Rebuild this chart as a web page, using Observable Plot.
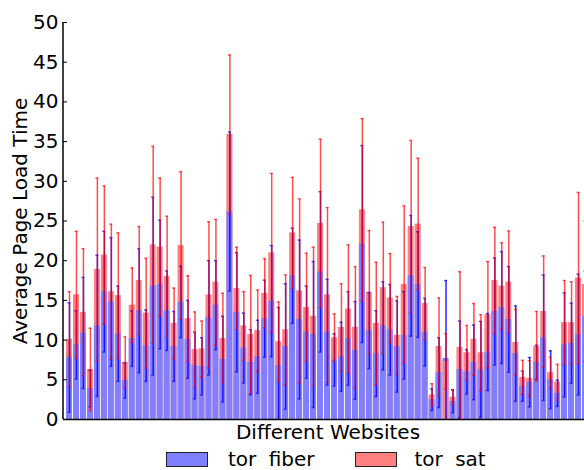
<!DOCTYPE html>
<html>
<head>
<meta charset="utf-8">
<script src="https://cdn.jsdelivr.net/npm/d3@7"></script>
<script src="https://cdn.jsdelivr.net/npm/@observablehq/plot@0.6"></script>
<style>
  html, body { margin: 0; padding: 0; background: white; overflow: hidden; }
  #chart svg { display: block; }
  .legend { height: 22px; padding-top: 2px; display: flex; align-items: center; line-height: 22px;
    font-family: "DejaVu Sans"; font-size: 20px; padding-left: 166px; white-space: nowrap; }
  .legend .sw { width: 40px; height: 13px; border: 1px solid #222; flex: none; }
  .legend .lab { word-spacing: 6px; flex: none; }
</style>
</head>
<body>
<div id="chart"></div>
<div class="legend">
  <span class="sw" style="background:#8080ff"></span><span class="lab" style="margin-left:20px;margin-right:41px">tor fiber</span>
  <span class="sw" style="background:#ff8080"></span><span class="lab" style="margin-left:17px">tor sat</span>
</div>
<script>
const fiber = [7.8, 9.4, 10.9, 3.9, 11.8, 16.1, 14.8, 10.8, 4.9, 10.2, 13.7, 9.3, 16.8, 17.0, 13.7, 9.2, 14.8, 10.1, 6.8, 6.7,
  12.8, 14.4, 7.6, 26.2, 13.5, 9.0, 7.2, 7.9, 12.7, 14.9, 6.8, 9.2, 18.1, 12.6, 11.0, 10.7, 18.6, 11.0, 7.5, 7.9,
  10.2, 8.7, 22.1, 11.2, 8.3, 11.8, 11.3, 9.2, 10.6, 18.1, 17.0, 11.0, 2.5, 5.9, 7.7, 2.3, 6.3, 6.0, 7.2, 6.3,
  8.5, 13.6, 14.1, 12.6, 8.3, 4.2, 4.7, 7.2, 10.3, 5.0, 3.3, 9.4, 9.6, 10.7, 13.0];
const fiberErr = [6.9, 4.3, 7.0, 2.3, 8.9, 7.6, 8.1, 6.0, 2.2, 3.5, 7.8, 4.5, 11.2, 8.1, 5.0, 4.4, 4.5, 4.9, 4.2, 3.6,
  7.2, 5.6, 5.4, 10.0, 7.5, 4.4, 4.1, 4.6, 4.85, 7.0, 7.3, 7.9, 6.0, 10.0, 5.8, 9.2, 10.1, 6.65, 3.3, 4.35,
  5.9, 6.15, 12.4, 4.8, 5.4, 5.55, 5.7, 5.75, 5.5, 7.6, 6.65, 4.25, 1.35, 4.4, 9.8, 1.45, 6.1, 2.8, 4.7, 6.05,
  4.85, 6.75, 7.05, 6.65, 6.0, 1.9, 3.1, 2.15, 7.9, 3.65, 1.65, 6.55, 5.05, 7.6, 5.7];
const sat = [10.1, 15.7, 13.5, 6.3, 18.9, 20.7, 16.1, 15.6, 7.2, 14.4, 17.5, 13.4, 22.0, 21.7, 18.0, 12.1, 21.9, 12.7, 8.8, 8.9,
  15.7, 17.3, 10.2, 35.9, 16.5, 11.8, 10.7, 11.2, 15.9, 21.0, 9.8, 11.3, 23.5, 16.2, 14.1, 13.0, 24.7, 15.7, 10.3, 11.6,
  13.9, 11.6, 26.4, 16.0, 12.1, 16.6, 15.3, 10.6, 17.0, 24.3, 24.6, 14.6, 3.1, 9.2, 7.3, 2.8, 9.1, 8.4, 10.1, 8.4,
  13.2, 17.5, 16.8, 17.3, 9.7, 5.3, 5.2, 9.2, 13.6, 5.9, 4.7, 12.2, 12.2, 17.8, 17.0];
const satErr = [6.0, 8.0, 8.0, 5.2, 11.5, 8.7, 8.5, 7.9, 3.2, 4.7, 6.8, 6.9, 12.4, 8.7, 7.6, 4.45, 9.3, 5.4, 4.75, 3.5,
  9.2, 7.9, 5.7, 10.0, 5.2, 4.3, 7.45, 5.1, 4.35, 10.0, 5.0, 6.9, 7.0, 11.6, 6.85, 8.7, 10.6, 11.0, 3.0, 5.5,
  8.1, 7.65, 11.5, 7.8, 7.7, 8.25, 5.6, 4.9, 9.9, 10.85, 8.3, 4.55, 1.4, 6.1, 3.5, 0.9, 9.5, 3.45, 4.5, 4.8,
  6.7, 6.7, 5.45, 6.45, 4.15, 2.15, 2.2, 4.4, 7.0, 1.95, 2.25, 5.3, 5.15, 10.8, 8.0];
const seriesNames = ["tor fiber", "tor sat"];
const seriesColors = ["#8080ff", "#ff8080"];
const sites = fiber.map((_, i) => `site ${i + 1}`);

// taller bar drawn first, shorter one on top (overlapping, not stacked)
const bars = sites.flatMap((s, i) => {
  const a = {site: s, series: seriesNames[0], value: fiber[i]};
  const b = {site: s, series: seriesNames[1], value: sat[i]};
  return fiber[i] >= sat[i] ? [a, b] : [b, a];
});
const fErr = sites.map((s, i) => ({site: s, lo: fiber[i] - fiberErr[i], hi: fiber[i] + fiberErr[i]}));
const sErr = sites.map((s, i) => ({site: s, lo: sat[i] - satErr[i], hi: sat[i] + satErr[i]}));

const chart = Plot.plot({
  width: 584, height: 446,
  marginLeft: 63, marginRight: 0, marginTop: 22, marginBottom: 27,
  style: {fontFamily: "DejaVu Sans", fontSize: "20px", background: "white", overflow: "hidden", color: "black"},
  x: {type: "band", domain: sites, range: [63, 591], paddingInner: 0.14, paddingOuter: 0.43, axis: null},
  y: {domain: [0, 50], ticks: 10, tickSize: 0, tickPadding: 5, label: null},
  color: {domain: seriesNames, range: seriesColors},
  marks: [
    Plot.barY(bars, {x: "site", y1: 0, y2: "value", fill: "series"}),
    Plot.ruleX(fErr, {x: "site", y1: d => Math.max(0, d.lo), y2: "hi", stroke: "#0000ff", strokeOpacity: 0.85, strokeWidth: 1.5}),
    Plot.tickY(fErr, {x: "site", y: "hi", stroke: "#0000ff", strokeOpacity: 0.7, strokeWidth: 1.5, insetLeft: 1.5, insetRight: 1.5}),
    Plot.tickY(fErr.filter(d => d.lo >= 0), {x: "site", y: "lo", stroke: "#0000ff", strokeOpacity: 0.7, strokeWidth: 1.5, insetLeft: 1.5, insetRight: 1.5}),
    Plot.ruleX(sErr, {x: "site", y1: d => Math.max(0, d.lo), y2: "hi", stroke: "#ff0000", strokeOpacity: 0.7, strokeWidth: 1.5}),
    Plot.tickY(sErr, {x: "site", y: "hi", stroke: "#ff0000", strokeOpacity: 0.6, strokeWidth: 1.5, insetLeft: 1.5, insetRight: 1.5}),
    Plot.tickY(sErr.filter(d => d.lo >= 0), {x: "site", y: "lo", stroke: "#ff0000", strokeOpacity: 0.6, strokeWidth: 1.5, insetLeft: 1.5, insetRight: 1.5}),
    Plot.ruleY(d3.range(0, 51, 5), {y: d => d, stroke: "black", strokeWidth: 1, insetRight: 584 - 63 - 4}),
    Plot.ruleY([0], {stroke: "black", strokeWidth: 1.5}),
    Plot.ruleX([sites[0]], {x: d => d, dx: -6.5, stroke: "black", strokeWidth: 1.5}),
    Plot.text(["Different Websites"], {text: d => d, frameAnchor: "bottom", lineAnchor: "middle", dy: 13, dx: 4, fontSize: 20}),
    Plot.text(["Average Page Load Time"], {text: d => d, frameAnchor: "left", textAnchor: "middle", lineAnchor: "middle", dx: -43, rotate: -90, fontSize: 20})
  ]
});
document.getElementById("chart").appendChild(chart);
</script>
</body>
</html>
